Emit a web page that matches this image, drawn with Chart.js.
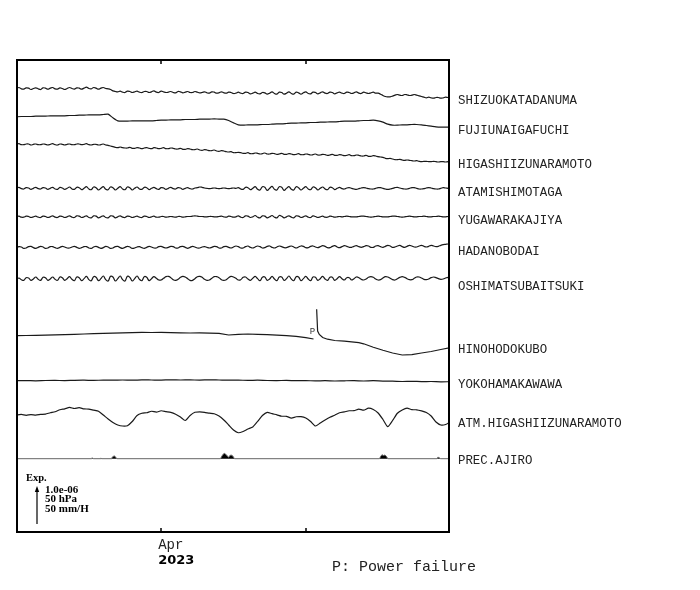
<!DOCTYPE html>
<html>
<head>
<meta charset="utf-8">
<script src="https://cdn.jsdelivr.net/npm/chart.js@4.4.0/dist/chart.umd.min.js"></script>
<style>
  html, body { margin: 0; padding: 0; background: #fff; }
</style>
</head>
<body>
<canvas id="strainChart" width="700" height="590"></canvas>
<script>
// channel names, top to bottom
const stations = ['SHIZUOKATADANUMA', 'FUJIUNAIGAFUCHI', 'HIGASHIIZUNARAMOTO', 'ATAMISHIMOTAGA',
    'YUGAWARAKAJIYA', 'HADANOBODAI', 'OSHIMATSUBAITSUKI', 'HINOHODOKUBO', 'YOKOHAMAKAWAWA',
    'ATM.HIGASHIIZUNARAMOTO', 'PREC.AJIRO'];

// time axis in days from Mar 1 2023 (day 1); Apr 1 = 31, May 1 = 61
const dayMin = 1.1, dayMax = 90.7;
const monthTicks = [31, 61];
const monthLabels = ['Apr', ''];
const yearLabel = '2023';
const scaleTexts = ['1.0e-06', '50 hPa', '50 mm/H'];

// strain channels sampled every half day (units 1e-8)
const halfStart = 1, halfStep = 0.5;
const shizuoka = [36, 39, 35, 34, 38, 37, 33, 36, 38, 35, 33, 38, 37, 34, 37, 39, 35, 34, 38, 36,
    33, 36, 39, 36, 34, 38, 37, 34, 37, 40, 36, 35, 39, 37, 34, 37, 39, 36, 35, 33,
    29, 27, 26, 28, 25, 24, 28, 27, 24, 26, 28, 25, 24, 27, 27, 24, 26, 29, 25, 24,
    28, 26, 24, 25, 27, 24, 23, 27, 26, 23, 25, 27, 24, 24, 27, 25, 23, 24, 26, 23,
    22, 26, 25, 22, 23, 26, 23, 22, 25, 24, 21, 22, 25, 22, 21, 25, 24, 20, 22, 25,
    21, 20, 24, 23, 19, 22, 26, 21, 19, 25, 24, 19, 22, 26, 21, 19, 25, 23, 19, 23,
    26, 21, 20, 25, 24, 20, 23, 26, 22, 21, 25, 24, 20, 23, 25, 22, 21, 25, 24, 21,
    23, 26, 22, 21, 25, 23, 21, 23, 25, 22, 22, 19, 15, 12, 11, 11, 13, 16, 18, 16,
    15, 18, 17, 15, 16, 18, 16, 14, 12, 10, 8, 10, 8, 7, 9, 9, 7, 8, 10, 9, 10];
const higashi = [62, 64, 61, 61, 63, 63, 60, 62, 63, 61, 61, 63, 62, 60, 62, 64, 61, 60, 63, 62,
    60, 62, 63, 61, 61, 63, 63, 61, 62, 64, 61, 60, 62, 62, 60, 61, 63, 60, 59, 57,
    55, 53, 52, 54, 52, 51, 51, 53, 50, 50, 52, 51, 49, 51, 52, 50, 49, 52, 51, 49,
    50, 52, 49, 49, 51, 50, 48, 48, 50, 47, 47, 49, 48, 46, 46, 48, 45, 44, 46, 45,
    43, 43, 45, 42, 41, 43, 42, 40, 39, 40, 37, 37, 38, 37, 35, 35, 37, 34, 34, 36,
    35, 33, 34, 36, 33, 33, 35, 34, 32, 33, 35, 32, 32, 34, 33, 31, 32, 34, 31, 31,
    33, 32, 30, 31, 33, 30, 30, 32, 31, 29, 30, 32, 29, 29, 31, 30, 28, 29, 31, 28,
    28, 30, 29, 27, 27, 29, 26, 26, 28, 27, 25, 24, 23, 20, 19, 20, 18, 16, 16, 17,
    15, 14, 15, 14, 13, 12, 13, 11, 10, 11, 11, 10, 10, 11, 10, 9, 10, 10, 9, 10, 10];
const atami = [14, 17, 13, 12, 16, 15, 11, 14, 17, 13, 12, 16, 15, 11, 14, 17, 12, 11, 17, 15,
    11, 14, 18, 12, 11, 17, 16, 10, 14, 19, 12, 10, 18, 16, 9, 14, 19, 11, 10, 18,
    16, 9, 14, 19, 12, 10, 18, 16, 9, 14, 18, 12, 11, 17, 16, 10, 14, 17, 13, 11,
    16, 15, 11, 14, 17, 13, 12, 16, 15, 11, 14, 16, 13, 12, 15, 16, 18, 17, 15, 14,
    13, 14, 15, 14, 13, 14, 15, 14, 13, 14, 15, 14, 16, 12, 11, 17, 16, 10, 14, 19,
    11, 9, 19, 17, 8, 14, 20, 11, 9, 19, 17, 8, 14, 19, 11, 9, 19, 16, 9, 14,
    19, 12, 10, 18, 16, 9, 14, 18, 12, 10, 17, 16, 10, 14, 17, 13, 12, 15, 16, 14,
    12, 11, 13, 15, 16, 15, 13, 12, 12, 14, 16, 16, 14, 12, 11, 12, 14, 16, 17, 15,
    13, 12, 12, 14, 16, 16, 14, 12, 12, 13, 15, 16, 15, 13, 12, 12, 14, 16, 15, 14, 13];
const yugawara = [11, 13, 10, 10, 13, 12, 9, 11, 13, 10, 9, 13, 12, 9, 11, 14, 10, 9, 13, 12,
    9, 11, 14, 10, 9, 14, 13, 9, 11, 14, 9, 8, 14, 13, 8, 11, 14, 9, 8, 14,
    13, 8, 11, 14, 10, 9, 13, 12, 9, 11, 13, 10, 9, 13, 12, 9, 11, 13, 10, 10,
    12, 12, 10, 11, 12, 11, 10, 12, 12, 10, 11, 12, 12, 13, 14, 13, 12, 12, 11, 11,
    12, 12, 11, 11, 12, 13, 11, 10, 13, 12, 10, 11, 14, 10, 9, 14, 13, 9, 11, 15,
    10, 8, 14, 13, 8, 11, 15, 10, 8, 15, 13, 8, 11, 14, 10, 8, 14, 13, 9, 11,
    14, 10, 9, 14, 12, 9, 11, 13, 10, 10, 13, 12, 10, 11, 12, 11, 12, 13, 12, 11,
    11, 11, 12, 13, 13, 12, 11, 10, 11, 12, 13, 12, 11, 11, 11, 12, 13, 13, 12, 11,
    10, 11, 12, 13, 12, 11, 11, 12, 12, 13, 12, 11, 11, 12, 12, 13, 12, 11, 11, 12, 12];
const hadano = [13, 16, 15, 11, 12, 16, 17, 13, 11, 14, 17, 15, 11, 12, 16, 16, 13, 11, 14, 17,
    15, 12, 12, 15, 17, 14, 11, 13, 16, 16, 12, 11, 15, 17, 14, 11, 13, 17, 15, 11,
    12, 16, 17, 13, 11, 14, 17, 15, 11, 12, 15, 16, 13, 11, 14, 17, 15, 12, 12, 16,
    17, 14, 12, 14, 17, 16, 12, 12, 16, 17, 14, 11, 14, 17, 15, 12, 12, 15, 16, 14,
    12, 14, 17, 16, 12, 12, 16, 17, 14, 12, 15, 18, 16, 12, 12, 16, 18, 14, 12, 15,
    18, 16, 12, 13, 17, 18, 14, 12, 15, 18, 16, 13, 13, 16, 18, 15, 12, 15, 18, 17,
    13, 13, 17, 18, 15, 13, 16, 19, 17, 13, 13, 17, 19, 15, 13, 16, 19, 17, 14, 14,
    17, 19, 16, 14, 16, 19, 18, 14, 14, 18, 19, 16, 14, 17, 20, 18, 14, 15, 18, 20,
    16, 14, 17, 20, 18, 15, 15, 18, 20, 17, 15, 17, 20, 18, 16, 17, 20, 22, 23, 24, 24];
const oshima = [22, 27, 22, 20, 28, 27, 20, 24, 30, 23, 20, 29, 28, 20, 24, 30, 23, 20, 30, 28,
    20, 25, 31, 23, 19, 30, 28, 19, 25, 32, 22, 19, 31, 29, 19, 25, 33, 22, 18, 32,
    30, 18, 25, 33, 22, 18, 32, 29, 18, 25, 33, 23, 19, 31, 29, 19, 25, 31, 26, 21,
    21, 26, 31, 32, 28, 22, 20, 23, 29, 32, 30, 25, 20, 20, 25, 31, 32, 29, 23, 20,
    21, 26, 31, 31, 28, 22, 20, 22, 28, 32, 30, 26, 21, 22, 29, 30, 24, 20, 26, 32,
    25, 19, 29, 30, 20, 24, 32, 24, 19, 30, 30, 20, 25, 33, 24, 19, 31, 30, 19, 25,
    32, 24, 19, 30, 29, 20, 25, 32, 24, 20, 29, 29, 20, 25, 31, 25, 21, 28, 28, 21,
    25, 30, 28, 23, 21, 24, 29, 31, 29, 24, 21, 22, 27, 31, 30, 26, 22, 21, 25, 29,
    31, 29, 25, 22, 22, 26, 30, 30, 27, 23, 22, 24, 28, 30, 28, 25, 23, 24, 27, 29, 28];

// daily channels (day 1..91)
const dailyStart = 1, dailyStep = 1;
const fuji = [41, 42, 42, 42, 43, 43, 43, 44, 44, 44, 44, 45, 45, 46, 46, 47, 47, 47, 48, 49,
    38, 29, 28, 28, 29, 29, 29, 29, 29, 30, 31, 31, 32, 32, 32, 33, 33, 33, 34, 34,
    34, 35, 34, 34, 30, 23, 17, 16, 17, 17, 17, 18, 18, 19, 20, 20, 21, 22, 22, 23,
    23, 24, 24, 25, 25, 26, 26, 27, 28, 28, 28, 29, 30, 30, 31, 29, 25, 19, 16, 16,
    17, 17, 18, 18, 17, 15, 13, 11, 10, 10, 10];
// atmospheric pressure, hPa
const atmPressure = [1012.1, 1012.9, 1011.6, 1012.8, 1012.0, 1012.9, 1013.4, 1015.3, 1016.8, 1019.6,
    1021.0, 1022.9, 1021.4, 1022.6, 1020.8, 1020.6, 1019.0, 1017.5, 1012.1, 1006.4,
    1001.4, 997.9, 996.4, 996.9, 1002.9, 1011.4, 1014.6, 1015.4, 1017.5, 1016.2,
    1018.2, 1017.0, 1015.9, 1013.3, 1009.3, 1004.3, 1011.4, 1016.0, 1016.6, 1016.0,
    1014.7, 1013.9, 1010.7, 1005.0, 997.9, 990.7, 986.8, 988.6, 992.1, 995.0,
    1002.9, 1011.4, 1016.0, 1014.0, 1012.4, 1010.4, 1010.3, 1007.7, 1009.6, 1009.8,
    1007.9, 1002.9, 996.4, 1000.7, 1005.0, 1008.9, 1011.8, 1015.3, 1016.6, 1018.2,
    1018.3, 1020.6, 1019.0, 1021.9, 1020.0, 1015.0, 1005.7, 995.4, 1004.3, 1014.6,
    1019.3, 1021.9, 1019.7, 1019.6, 1018.0, 1015.7, 1010.7, 1002.1, 997.9, 998.6,
    1002.6];

// every two days
const twoDayStart = 1, twoDayStep = 2;
const yokohama = [12.9, 13.2, 12.6, 13.5, 13.8, 13.2, 14.1, 14.4, 13.8, 14.7, 14.4, 15.0, 14.4, 15.3,
    15.0, 14.7, 15.6, 15.0, 15.3, 14.7, 15.6, 15.0, 14.4, 14.7, 13.8, 14.4, 13.5, 13.2, 13.8, 12.9,
    13.2, 12.3, 12.9, 12.0, 12.6, 12.9, 12.0, 12.9, 11.7, 11.4, 10.5, 11.1, 10.2, 10.5, 9.6, 9.9];

// HINOHODOKUBO with a power failure gap
const hinoDays = [1, 3, 5, 7, 9, 11, 13, 15, 17, 19, 21, 23, 25, 27, 29, 31, 33, 35, 37, 39,
    41, 43, 45, 47, 49, 51, 53, 55, 57, 59, 61, 62.6, 63.0, 63.25, 63.45, 63.8, 64.5, 65.5,
    67, 69, 71, 72, 73, 75, 77, 79, 81, 83, 85, 87, 89, 91];
const hino = [43, 43.5, 43.8, 44.7, 45.3, 45.9, 46.8, 48, 48.9, 49.8, 50.7, 51.3, 51.9, 52.8,
    52.5, 53.1, 52.2, 51.6, 51, 51.3, 50.4, 50.1, 45, 46.8, 48, 46.8, 45.9, 44.4, 43.2, 40.8,
    36.9, 33, null, 122, 57, 46.5, 37.5, 32.4, 28.5, 26.4, 23.4, 21.9, 18.6, 8.4, -0.9, -9,
    -15, -13.8, -9, -4.5, 1.5, 7.5];
const powerFailureIndex = 31;

// precipitation, mm/h
const precDays = [1, 16.6, 16.7, 16.9, 18.4, 18.5, 18.6, 20.6, 20.8, 21.0, 21.3, 21.6, 21.8,
    43.3, 43.5, 43.8, 44.1, 44.4, 44.7, 45.0, 45.3, 45.6, 45.9, 46.2,
    76.3, 76.5, 76.8, 77.1, 77.4, 77.7, 78.0, 88.2, 88.4, 88.7, 88.9, 91];
const precRate = [0, 0, 1.4, 0, 0, 1.1, 0, 0, 1.5, 3.2, 3.9, 2.0, 0,
    0, 2.5, 6.0, 7.6, 6.4, 4.0, 2.0, 4.9, 5.0, 3.5, 0,
    0, 3.0, 5.7, 4.5, 5.2, 3.5, 0, 0, 2.1, 1.5, 0, 0];

// ---- layout ----
const labelY = [100.5, 130.5, 165, 193, 220.5, 252, 287, 350, 385, 423.5, 460.5];
const plotTop = 60, plotBottom = 532, precZeroY = 458.7;
const STRAIN_PX = 1 / 3;   // px per 1e-8
const HPA_PX = 0.7, ATM_REF = 1000;
const MMH_PX = 0.7;

function base(row) { return plotBottom - labelY[row]; }

function regular(row, vals, start, step, gain) {
    return vals.map((v, k) => ({ x: start + k * step, y: base(row) + v * gain }));
}

function lineSet(points, tension) {
    return {
        data: points,
        borderColor: '#1a1a1a',
        borderWidth: 1.2,
        pointRadius: 0,
        tension: tension,
        fill: false
    };
}

const hinoPoints = hinoDays.map((d, k) => ({ x: d, y: hino[k] == null ? null : base(7) + hino[k] * STRAIN_PX }));
const atmPoints = atmPressure.map((p, k) => ({ x: dailyStart + k * dailyStep, y: base(9) + (p - ATM_REF) * HPA_PX }));
const precBase = plotBottom - precZeroY;
const precPoints = precDays.map((d, k) => ({ x: d, y: precBase + precRate[k] * MMH_PX }));

const datasets = [
    lineSet(regular(0, shizuoka, halfStart, halfStep, STRAIN_PX), 0.4),
    lineSet(regular(1, fuji, dailyStart, dailyStep, STRAIN_PX), 0.2),
    lineSet(regular(2, higashi, halfStart, halfStep, STRAIN_PX), 0.4),
    lineSet(regular(3, atami, halfStart, halfStep, STRAIN_PX), 0.4),
    lineSet(regular(4, yugawara, halfStart, halfStep, STRAIN_PX), 0.4),
    lineSet(regular(5, hadano, halfStart, halfStep, STRAIN_PX), 0.4),
    lineSet(regular(6, oshima, halfStart, halfStep, STRAIN_PX), 0.4),
    lineSet(hinoPoints, 0),
    lineSet(regular(8, yokohama, twoDayStart, twoDayStep, STRAIN_PX), 0.3),
    lineSet(atmPoints, 0.2),
    {
        data: precPoints,
        borderColor: '#666',
        borderWidth: 1,
        pointRadius: 0,
        tension: 0,
        fill: { value: precBase },
        backgroundColor: '#000'
    }
];

const decor = {
    id: 'decor',
    afterDatasetsDraw(chart) {
        const { ctx, chartArea: a, scales: { x, y } } = chart;
        ctx.save();
        ctx.strokeStyle = '#000';
        ctx.fillStyle = '#000';
        ctx.lineWidth = 2;
        ctx.strokeRect(a.left, a.top, a.right - a.left, a.bottom - a.top);

        // month ticks, top and bottom
        ctx.lineWidth = 1.5;
        monthTicks.forEach(d => {
            const px = Math.round(x.getPixelForValue(d));
            ctx.beginPath();
            ctx.moveTo(px, a.top); ctx.lineTo(px, a.top + 4);
            ctx.moveTo(px, a.bottom); ctx.lineTo(px, a.bottom - 4);
            ctx.stroke();
        });

        // station names
        ctx.fillStyle = '#222';
        ctx.textBaseline = 'middle';
        ctx.textAlign = 'left';
        ctx.font = '12.4px "Liberation Mono", monospace';
        stations.forEach((s, i) => ctx.fillText(s, a.right + 9, labelY[i]));

        // month / year
        ctx.font = '14px "Liberation Mono", monospace';
        monthTicks.forEach((d, i) => {
            if (monthLabels[i]) ctx.fillText(monthLabels[i], x.getPixelForValue(d) - 3, a.bottom + 13);
        });
        ctx.fillStyle = '#000';
        ctx.font = 'bold 13px "DejaVu Sans", sans-serif';
        ctx.fillText(yearLabel, x.getPixelForValue(monthTicks[0]) - 3, a.bottom + 29);

        // power failure marker
        const pf = hinoPoints[powerFailureIndex];
        ctx.fillStyle = '#333';
        ctx.font = '9px "Liberation Mono", monospace';
        ctx.textAlign = 'center';
        ctx.fillText('P', x.getPixelForValue(pf.x) - 1, y.getPixelForValue(pf.y) - 7);
        ctx.textAlign = 'left';
        ctx.fillStyle = '#222';
        ctx.font = '15px "Liberation Mono", monospace';
        ctx.fillText('P: Power failure', 332, 567);

        // scale legend
        ctx.fillStyle = '#000';
        ctx.font = 'bold 10.5px "Liberation Serif", serif';
        ctx.fillText('Exp.', a.left + 9, 478);
        ctx.lineWidth = 1.2;
        ctx.beginPath();
        ctx.moveTo(a.left + 20, 524);
        ctx.lineTo(a.left + 20, 490);
        ctx.stroke();
        ctx.beginPath();
        ctx.moveTo(a.left + 20, 486);
        ctx.lineTo(a.left + 17.8, 492);
        ctx.lineTo(a.left + 22.2, 492);
        ctx.closePath();
        ctx.fill();
        ctx.font = 'bold 11px "Liberation Serif", serif';
        scaleTexts.forEach((t, k) => ctx.fillText(t, a.left + 28, 490 + k * 9.5));
        ctx.restore();
    }
};

new Chart(document.getElementById('strainChart'), {
    type: 'line',
    data: { datasets: datasets },
    options: {
        responsive: false,
        animation: false,
        devicePixelRatio: 1,
        layout: { padding: { left: 17, right: 251, top: plotTop, bottom: 590 - plotBottom } },
        plugins: { legend: { display: false }, tooltip: { enabled: false } },
        scales: {
            x: { type: 'linear', min: dayMin, max: dayMax, display: false },
            y: { type: 'linear', min: 0, max: plotBottom - plotTop, display: false }
        }
    },
    plugins: [decor]
});
</script>
</body>
</html>
